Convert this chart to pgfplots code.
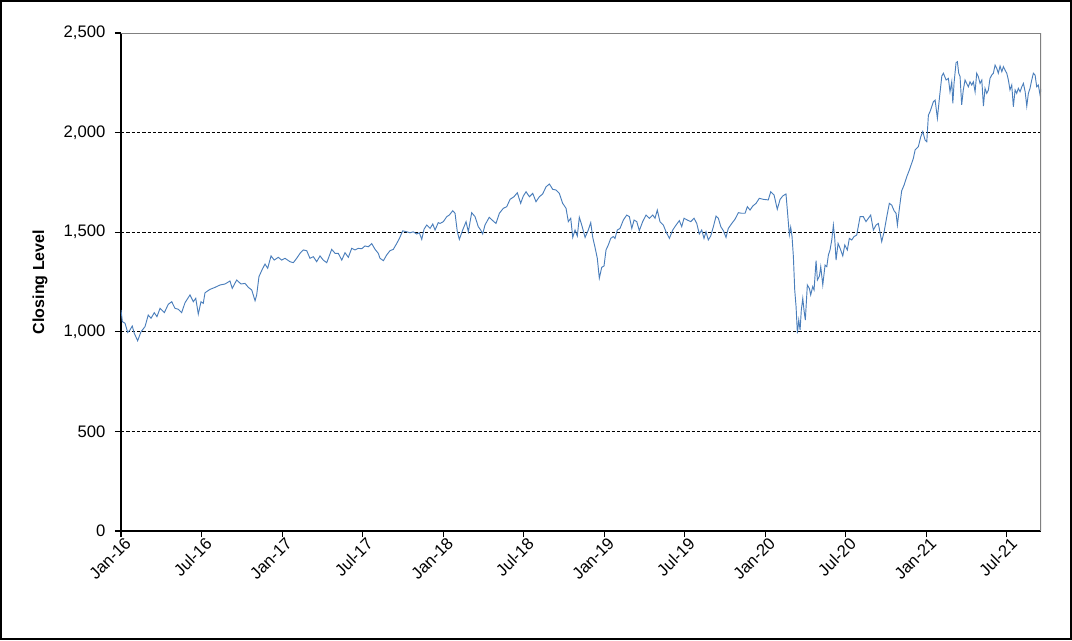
\documentclass[border=0pt,12pt]{standalone}
\usepackage{pgfplots}
\pgfplotsset{compat=1.18}
\usepackage{fontspec}
\setmainfont{Liberation Sans}
\definecolor{linecol}{HTML}{4A7EBB}
\pgfplotsset{
  every tick label/.append style={font=\fontsize{12.5}{15}\selectfont},
  every y tick label/.append style={xshift=-3pt},
  every x tick label/.append style={rotate=45, anchor=north east, inner sep=1pt, xshift=3pt},
}
\begin{document}
\begin{tikzpicture}
\useasboundingbox (-90.75pt,-81.75pt) rectangle (713.25pt,398.25pt);
\draw[line width=1.1pt] (-89.9pt,-80.9pt) rectangle (712.4pt,397.4pt);
\begin{axis}[
  scale only axis, width=690pt, height=373.5pt,
  xmin=0, xmax=68.55, ymin=0, ymax=2500,
  axis x line*=bottom, axis y line*=left,
  axis line style={line width=1.1pt, black},
  tick align=outside, major tick length=4.5pt,
  tick style={black, line width=0.8pt},
  xtick={0,6,12,18,24,30,36,42,48,54,60,66},
  xticklabels={Jan-16,Jul-16,Jan-17,Jul-17,Jan-18,Jul-18,Jan-19,Jul-19,Jan-20,Jul-20,Jan-21,Jul-21},
  ytick={0,500,1000,1500,2000,2500},
  scaled y ticks=false,
  yticklabel={\pgfmathprintnumber[1000 sep={,},assume math mode=true]{\tick}},
  ymajorgrids, grid style={black, dash pattern=on 2.5pt off 1.5pt, line width=0.5pt},
  ylabel={\textbf{Closing Level}},
  every axis y label/.style={at={(axis description cs:-0.088,0.5)}, rotate=90, anchor=center, font=\fontsize{12}{14}\selectfont},
  clip=true,
]
\addplot[color=linecol, line width=0.7pt, mark=none] coordinates {
(0,1110) (0.10,1051) (0.30,1043) (0.50,997) (0.67,1009) (0.84,1029) (0.99,992) (1.24,955) (1.49,1000) (1.79,1026)
(2.03,1084) (2.24,1068) (2.48,1096) (2.68,1076) (2.91,1118) (3.23,1096) (3.52,1138) (3.78,1151) (4.02,1118) (4.27,1113)
(4.52,1096) (4.77,1146) (5.14,1185) (5.39,1151) (5.57,1168) (5.76,1089) (5.96,1151) (6.13,1143) (6.26,1196) (6.63,1213)
(7.00,1223) (7.38,1235) (7.75,1240) (8.12,1255) (8.29,1218) (8.62,1260) (8.94,1240) (9.24,1243) (9.49,1223) (9.74,1210)
(9.99,1156) (10.11,1185) (10.28,1277) (10.53,1314) (10.73,1340) (10.93,1319) (11.18,1381) (11.42,1360) (11.72,1374) (11.97,1360)
(12.22,1369) (12.59,1352) (12.84,1347) (13.09,1369) (13.34,1394) (13.58,1411) (13.84,1407) (14.08,1369) (14.33,1377) (14.58,1352)
(14.83,1381) (15.07,1360) (15.33,1347) (15.70,1414) (15.95,1394) (16.19,1394) (16.45,1360) (16.69,1397) (16.94,1374) (17.19,1419)
(17.44,1411) (17.68,1419) (17.94,1417) (18.18,1431) (18.43,1427) (18.68,1443) (18.93,1414) (19.17,1394) (19.30,1369) (19.55,1357)
(19.80,1386) (20.04,1407) (20.29,1414) (20.54,1443) (20.74,1468) (20.99,1507) (21.29,1502) (21.54,1497) (21.78,1502) (22.03,1491)
(22.23,1497) (22.41,1464) (22.58,1515) (22.78,1536) (23.03,1519) (23.23,1541) (23.40,1511) (23.64,1548) (23.77,1544) (24.02,1553)
(24.27,1578) (24.46,1586) (24.72,1608) (24.89,1595) (25.06,1502) (25.21,1464) (25.46,1511) (25.71,1553) (25.88,1502) (26.13,1598)
(26.38,1578) (26.62,1528) (26.80,1511) (26.95,1491) (27.12,1536) (27.44,1575) (27.70,1558) (27.94,1544) (28.19,1595) (28.49,1620)
(28.74,1628) (28.99,1665) (29.28,1678) (29.53,1698) (29.78,1645) (29.98,1682) (30.18,1703) (30.43,1678) (30.68,1695) (30.92,1653)
(31.17,1678) (31.42,1692) (31.67,1728) (31.92,1742) (32.17,1715) (32.41,1712) (32.66,1695) (32.91,1645) (33.16,1620) (33.33,1553)
(33.51,1570) (33.66,1474) (33.83,1511) (34.00,1481) (34.15,1575) (34.33,1536) (34.58,1474) (34.82,1511) (35.00,1548) (35.15,1474)
(35.32,1424) (35.49,1369) (35.64,1269) (35.82,1324) (35.99,1330) (36.14,1411) (36.31,1436) (36.49,1469) (36.68,1478) (36.81,1469)
(36.98,1511) (37.18,1519) (37.43,1561) (37.68,1586) (37.88,1578) (38.06,1519) (38.23,1561) (38.43,1553) (38.62,1508) (38.87,1553)
(39.12,1586) (39.37,1570) (39.62,1586) (39.79,1570) (39.96,1611) (40.16,1553) (40.41,1536) (40.61,1502) (40.86,1469) (41.11,1511)
(41.36,1536) (41.60,1558) (41.78,1528) (41.95,1570) (42.20,1561) (42.45,1553) (42.70,1570) (42.90,1544) (43.09,1491) (43.27,1511)
(43.44,1469) (43.59,1502) (43.76,1461) (43.94,1481) (44.14,1528) (44.34,1581) (44.51,1570) (44.69,1528) (44.88,1508) (45.08,1474)
(45.25,1519) (45.51,1544) (45.75,1565) (46.00,1598) (46.25,1595) (46.50,1595) (46.67,1628) (46.87,1611) (47.07,1631) (47.32,1645)
(47.56,1670) (47.86,1665) (48.23,1662) (48.41,1703) (48.66,1687) (48.90,1615) (49.11,1665) (49.31,1682) (49.55,1692) (49.65,1611)
(49.80,1486) (49.90,1525) (50.00,1478) (50.10,1377) (50.20,1210) (50.30,1126) (50.40,992) (50.50,1059) (50.60,1009) (50.69,1109)
(50.80,1168) (50.89,1109) (50.99,1059) (51.14,1235) (51.29,1218) (51.39,1185) (51.54,1227) (51.64,1210) (51.79,1357) (51.89,1260)
(52.04,1280) (52.14,1327) (52.29,1235) (52.46,1335) (52.59,1327) (52.71,1386) (52.83,1411) (52.96,1461) (53.08,1536) (53.18,1469)
(53.28,1360) (53.43,1444) (53.58,1419) (53.78,1381) (53.93,1436) (54.12,1411) (54.27,1469) (54.45,1461) (54.62,1478) (54.82,1486)
(55.07,1578) (55.31,1578) (55.51,1553) (55.69,1570) (55.86,1586) (56.06,1511) (56.26,1536) (56.43,1544) (56.68,1453) (56.86,1502)
(57.06,1578) (57.25,1645) (57.43,1636) (57.60,1608) (57.75,1595) (57.85,1536) (58.00,1620) (58.17,1708) (58.35,1737) (58.55,1779)
(58.74,1812) (59.04,1871) (59.17,1913) (59.41,1929) (59.59,1979) (59.74,2005) (59.91,1963) (60.04,1954) (60.16,2088) (60.28,2105)
(60.41,2130) (60.53,2155) (60.66,2163) (60.83,2072) (60.98,2172) (61.16,2284) (61.28,2298) (61.48,2264) (61.65,2272) (61.77,2205)
(61.90,2255) (61.98,2147) (62.07,2247) (62.22,2351) (62.32,2356) (62.42,2298) (62.52,2281) (62.64,2139) (62.76,2214) (62.89,2264)
(63.01,2247) (63.14,2230) (63.26,2255) (63.39,2239) (63.51,2255) (63.64,2205) (63.76,2298) (63.88,2281) (64.01,2247) (64.14,2264)
(64.26,2133) (64.38,2222) (64.51,2197) (64.63,2214) (64.75,2272) (64.88,2289) (65.00,2298) (65.13,2339) (65.25,2323) (65.37,2298)
(65.50,2334) (65.63,2306) (65.75,2331) (65.87,2314) (66.00,2298) (66.12,2264) (66.24,2214) (66.37,2239) (66.49,2130) (66.62,2214)
(66.74,2197) (66.86,2222) (66.99,2205) (67.12,2230) (67.24,2247) (67.37,2205) (67.49,2133) (67.61,2197) (67.73,2222) (67.86,2264)
(67.98,2298) (68.11,2289) (68.23,2230) (68.35,2239) (68.48,2189) (68.55,2220)
};
\draw[gray, line width=1.4pt] (rel axis cs:0,1) -- (rel axis cs:1,1) -- (rel axis cs:1,0);
\end{axis}
\end{tikzpicture}
\end{document}
